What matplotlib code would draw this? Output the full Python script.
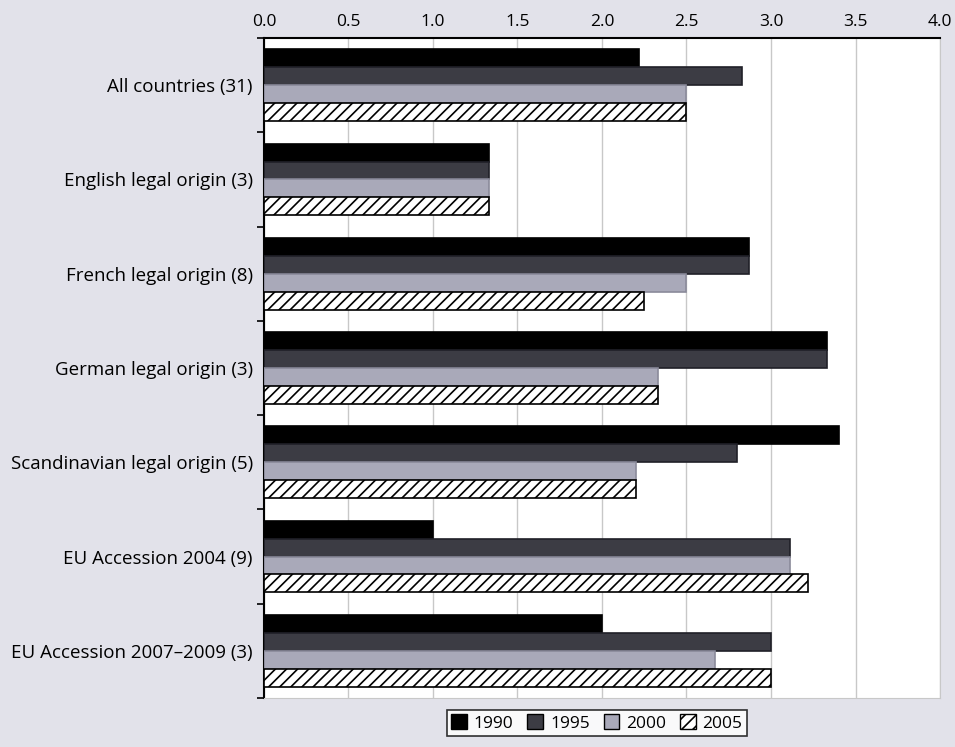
import numpy as np
import matplotlib.pyplot as plt
from matplotlib.patches import Patch

# Groups of countries and the index value per survey year
categories = ["All countries (31)", "English legal origin (3)", "French legal origin (8)",
              "German legal origin (3)", "Scandinavian legal origin (5)",
              "EU Accession 2004 (9)", "EU Accession 2007\u20132009 (3)"]
years = ["1990", "1995", "2000", "2005"]
v1990 = [2.22, 1.33, 2.87, 3.33, 3.40, 1.00, 2.00]
v1995 = [2.83, 1.33, 2.87, 3.33, 2.80, 3.11, 3.00]
v2000 = [2.50, 1.33, 2.50, 2.33, 2.20, 3.11, 2.67]
v2005 = [2.50, 1.33, 2.25, 2.33, 2.20, 3.22, 3.00]
xticks = [0.0, 0.5, 1.0, 1.5, 2.0, 2.5, 3.0, 3.5, 4.0]

plt.rcParams['font.family'] = ['Open Sans', 'DejaVu Sans']
plt.rcParams['hatch.linewidth'] = 1.2

fig = plt.figure(figsize=(9.55, 7.47), dpi=100, facecolor="#e2e2ea")
ax = fig.add_axes([0.2764, 0.0656, 0.7079, 0.8835])
ax.set_facecolor("white")

y = np.arange(len(categories))
h = 0.19
styles = [dict(color="black", edgecolor="black"),
          dict(color="#3c3c44", edgecolor="#202028"),
          dict(color="#a9a9b9", edgecolor="#8a8a9a"),
          dict(color="white", edgecolor="black", hatch="///")]
series = [v1990, v1995, v2000, v2005]

for i, (vals, st) in enumerate(zip(series, styles)):
    ax.barh(y - 1.5 * h + i * h, vals, height=h, linewidth=1.2, zorder=3, **st)

ax.set_xlim(0, 4.0)
ax.set_ylim(len(categories) - 0.5, -0.5)
ax.set_xticks(xticks)
ax.set_xticklabels([f"{t:.1f}" for t in xticks], fontsize=12.5)
ax.xaxis.tick_top()
ax.tick_params(axis="x", length=0, pad=6)
ax.grid(axis="x", color="#c8c8c8", linewidth=1, zorder=0)

ax.set_yticks(y)
ax.set_yticklabels(categories, fontsize=13.5)
ax.tick_params(axis="y", length=0, pad=8)
ax.set_yticks(np.arange(-0.5, len(categories), 1.0), minor=True)
ax.tick_params(axis="y", which="minor", length=5, width=1.2, direction="out")

for side in ["top", "left"]:
    ax.spines[side].set_linewidth(1.5)
    ax.spines[side].set_color("black")
for side in ["right", "bottom"]:
    ax.spines[side].set_color("#c8c8c8")

handles = [Patch(facecolor=st["color"], edgecolor="black", hatch=st.get("hatch"))
           for st in styles]
leg = fig.legend(handles, years, loc="center", bbox_to_anchor=(0.625, 0.032), ncol=4,
                 prop=dict(size=12.5), frameon=True, fancybox=False, edgecolor="black",
                 handlelength=0.9, handleheight=0.9, handletextpad=0.4,
                 columnspacing=0.8, borderpad=0.25)
leg.get_frame().set_linewidth(1.2)

fig.savefig("out.png", dpi=100, facecolor=fig.get_facecolor())
